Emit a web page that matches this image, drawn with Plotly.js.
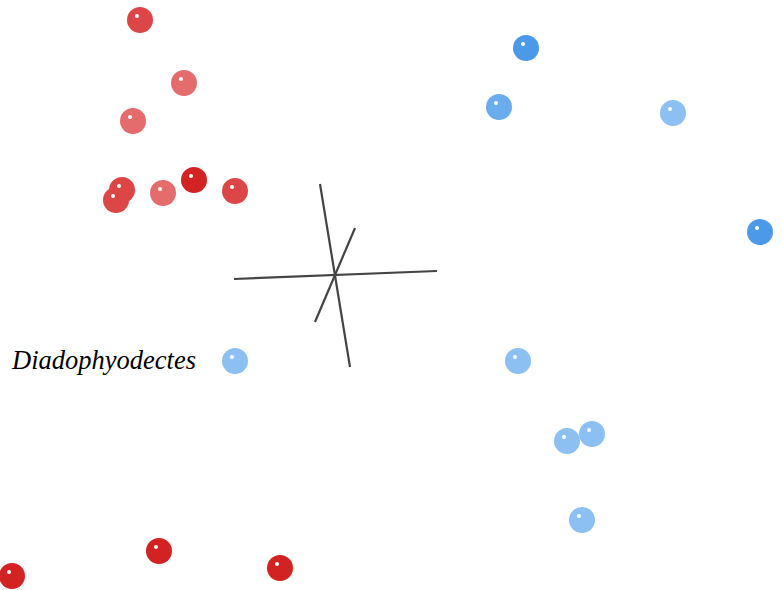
<!DOCTYPE html>
<html>
<head>
<meta charset="utf-8">
<script src="https://cdn.plot.ly/plotly-3.0.1.min.js"></script>
<style>html,body{margin:0;padding:0;background:#fff;}#plot{width:783px;height:590px;}</style>
</head>
<body>
<div id="plot"></div>
<script>
// Group 1 (red) projected positions
var redX = [140, 184, 133, 122, 116, 163, 194, 235, 159, 280, 12];
var redY = [20, 83, 121, 190, 200, 193, 180, 191, 551, 568, 576];
var redColor = ['#dc4646', '#e46c6c', '#e46c6c', '#dc4646', '#dc4646', '#e46c6c', '#d32222', '#dc4646', '#d32222', '#d32222', '#d32222'];

// Group 2 (blue) projected positions
var blueX = [526, 499, 673, 760, 235, 518, 567, 592, 582];
var blueY = [48, 107, 113, 232, 361, 361, 441, 434, 520];
var blueColor = ['#4b99e8', '#6aaced', '#8cc0f2', '#4b99e8', '#8cc0f2', '#8cc0f2', '#8cc0f2', '#8cc0f2', '#8cc0f2'];

// Axis cross segments (start/end)
var axisX = [[234, 437], [320, 350], [355, 315]];
var axisY = [[279, 271], [184, 367], [228, 322]];

var labelText = 'Diadophyodectes';
var labelX = 9, labelY = 360;

var traces = [];
axisX.forEach(function (xs, i) {
  traces.push({x: xs, y: axisY[i], mode: 'lines', type: 'scatter',
    line: {color: '#444444', width: 2.2}, hoverinfo: 'skip', showlegend: false});
});
function pts(xs, ys, cols) {
  traces.push({x: xs, y: ys, mode: 'markers', type: 'scatter', showlegend: false,
    marker: {size: 26, color: cols, line: {width: 0}}});
  traces.push({x: xs.map(function (v) { return v - 3; }), y: ys.map(function (v) { return v - 4; }),
    mode: 'markers', type: 'scatter', showlegend: false, hoverinfo: 'skip',
    marker: {size: 4, color: '#ffffff', line: {width: 0}}});
}
pts(redX, redY, redColor);
pts(blueX, blueY, blueColor);

var layout = {
  width: 783, height: 590,
  margin: {l: 0, r: 0, t: 0, b: 0},
  paper_bgcolor: '#ffffff', plot_bgcolor: '#ffffff',
  xaxis: {range: [0, 783], visible: false, fixedrange: true},
  yaxis: {range: [590, 0], visible: false, fixedrange: true},
  annotations: [{x: labelX, y: labelY, xref: 'x', yref: 'y', text: '<i>' + labelText + '</i>',
    showarrow: false, xanchor: 'left', yanchor: 'middle',
    font: {family: 'Liberation Serif, Times New Roman, serif', size: 26.5, color: '#000000'}}]
};
Plotly.newPlot('plot', traces, layout, {displayModeBar: false, staticPlot: true});
</script>
</body>
</html>
